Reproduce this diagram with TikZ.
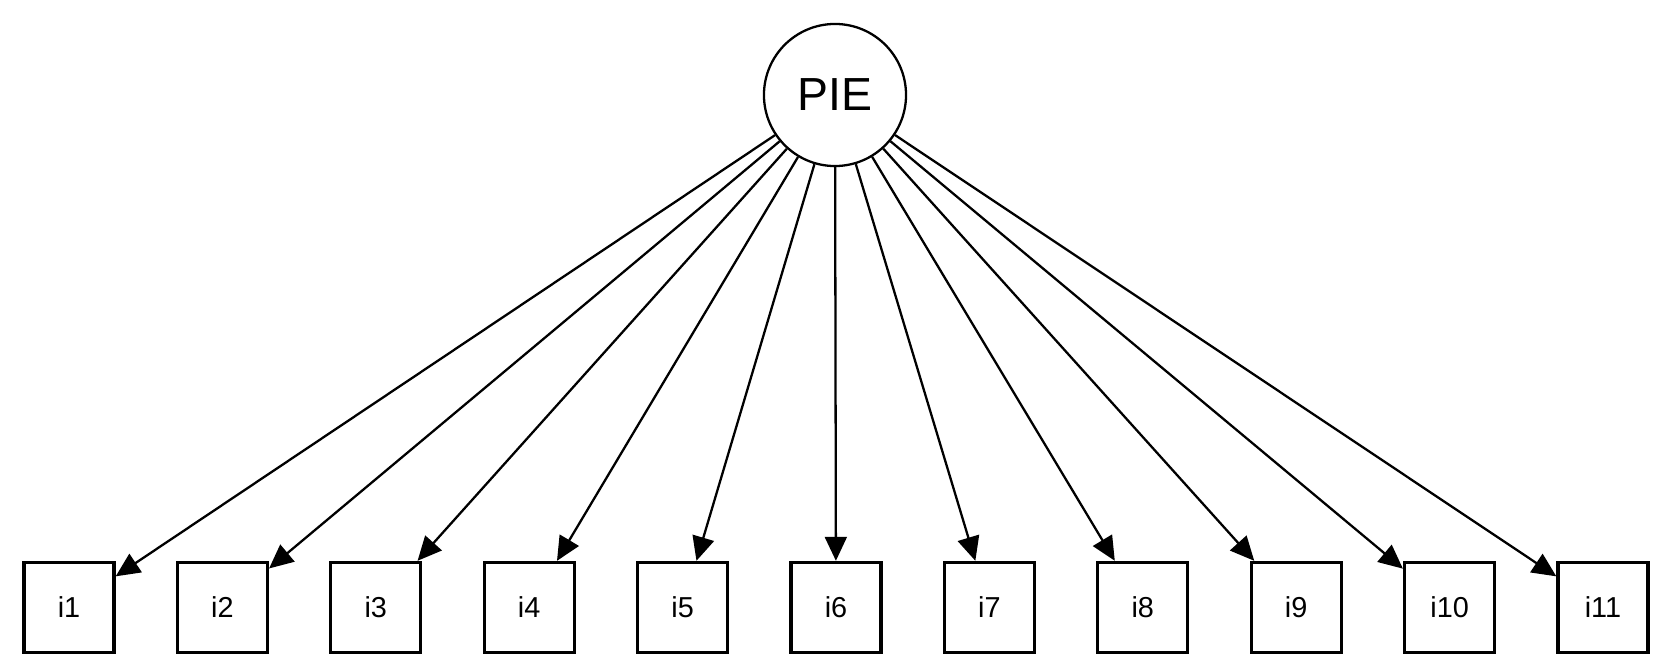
\documentclass[tikz,border=0pt]{standalone}
\usepackage{fontspec}
\setmainfont{Liberation Sans}
\usetikzlibrary{arrows.meta}
\begin{document}
\begin{tikzpicture}[x=0.01cm,y=-0.01cm,
  latent/.style={circle,draw,line width=0.65pt,minimum size=1.42cm,inner sep=0pt,font=\fontsize{13.2pt}{15pt}\selectfont},
  manifest/.style={rectangle,draw,line width=0.95pt,minimum size=0.90cm,inner sep=0pt,font=\fontsize{8.2pt}{10pt}\selectfont},
  load/.style={line width=0.65pt,-{Triangle[length=0.24cm,width=0.22cm]}}]
\useasboundingbox (0,0) rectangle (1668,670);
\node[latent] (pie) at (835,95) {PIE};
\foreach \i in {1,...,11}{
  \node[manifest] (i\i) at ({69+(\i-1)*153.4},607.5) {i\i};
  \draw[load] (pie) -- (i\i);
}
\end{tikzpicture}
\end{document}
